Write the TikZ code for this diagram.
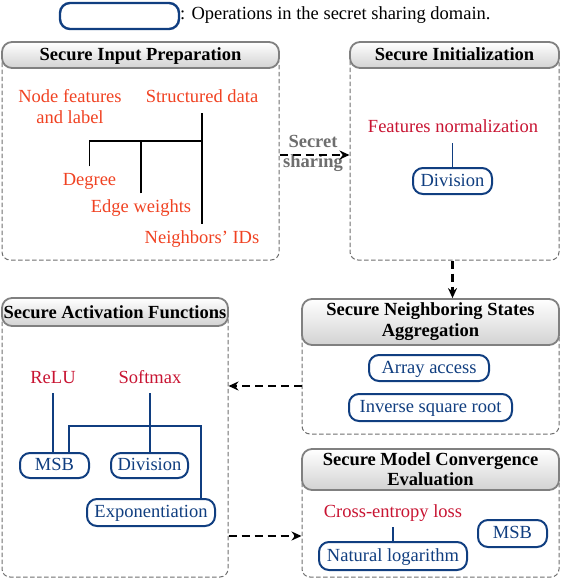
\documentclass[tikz,border=0pt]{standalone}
\usepackage{fontspec}
\setmainfont{Liberation Serif}
\usetikzlibrary{arrows.meta}
\definecolor{opblue}{RGB}{16,62,128}
\definecolor{crim}{RGB}{200,20,50}
\definecolor{ored}{RGB}{240,66,34}
\definecolor{boxgray}{RGB}{110,110,110}
\definecolor{ssgray}{RGB}{110,110,110}
\begin{document}
\begin{tikzpicture}[x=1pt,y=-1pt,
 fs/.style={font=\fontsize{18.5}{21}\selectfont},
 dbox/.style={draw=boxgray, line width=1pt, dash pattern=on 4.5pt off 2.5pt, rounded corners=8pt, inner sep=0pt},
 ttl/.style={draw=gray, line width=1.8pt, rounded corners=10pt, top color=white, bottom color=gray!35, inner sep=0pt, align=center, font=\fontsize{18.5}{21}\selectfont\bfseries},
 ttlone/.style={ttl, text height=14pt, text depth=2pt},
 op/.style={draw=opblue, line width=2pt, rounded corners=10pt, fill=white, inner sep=0pt, text=opblue, font=\fontsize{18.5}{21}\selectfont, text height=13pt, text depth=3pt},
 lbl/.style={inner xsep=0pt, inner ysep=6pt, text height=12.5pt, text depth=4pt, font=\fontsize{18.5}{21}\selectfont, anchor=base},
 inlbl/.style={lbl, text=ored},
 rlbl/.style={lbl, text=crim},
 tree/.style={line width=1.8pt},
 btree/.style={line width=1.8pt, draw=opblue},
 arr/.style={line width=2.4pt, dash pattern=on 8pt off 5pt, -{Stealth[length=10pt,width=9pt]}}
]
\useasboundingbox (0,0) rectangle (562,580);

% legend
\node[op, minimum width=119, minimum height=26, line width=2.4pt] (leg) at (119.5,16) {};
\node[anchor=base west, inner sep=0pt, fs] (legt) at (180,20) {: Operations in the secret sharing domain.};

% dashed boxes
\node[dbox, minimum width=277, minimum height=205] (b1) at (140.5,157.5) {};
\node[dbox, minimum width=209, minimum height=205] (b2) at (454.5,157.5) {};
\node[dbox, minimum width=257, minimum height=112] (b3) at (430.5,378) {};
\node[dbox, minimum width=226, minimum height=265] (b4) at (115,444.5) {};
\node[dbox, minimum width=257, minimum height=108] (b5) at (430.5,523) {};

% titles
\node[ttlone, minimum width=277, minimum height=26] (t1) at (140.5,55) {Secure Input Preparation};
\node[ttlone, minimum width=209, minimum height=26] (t2) at (454.5,55) {Secure Initialization};
\node[ttl, minimum width=257, minimum height=46] (t3) at (430.5,322) {Secure Neighboring States\\Aggregation};
\node[ttlone, minimum width=226, minimum height=28] (t4) at (115,312) {Secure Activation Functions};
\node[ttl, minimum width=257, minimum height=41, font=\fontsize{18.5}{20}\selectfont\bfseries] (t5) at (430.5,469.5) {Secure Model Convergence\\Evaluation};

% input preparation
\node[inner sep=0pt, align=center, text=ored, fs] (nf) at (70,106.7) {Node features\\and label};
\node[inlbl] (sd) at (202,103) {Structured data};
\node[inlbl] (deg) at (89.5,185) {Degree};
\node[inlbl] (ew) at (141,212) {Edge weights};
\node[inlbl] (nid) at (202,243) {Neighbors’ IDs};
\coordinate (j) at (202,141);
\draw[tree] (sd.south) -- (nid.north);
\draw[tree] (deg.north) |- (j);
\draw[tree] (ew.north) -- (ew.north |- j);

% secret sharing
\node[inner sep=0pt, align=center, text=ssgray, font=\fontsize{18.5}{20}\selectfont\bfseries] (ss) at (313,153) {Secret\\sharing};
\coordinate (a1) at (0,155);
\draw[arr] (b1.east |- a1) -- (b2.west |- a1);

% initialization
\node[rlbl] (fn) at (453,133) {Features normalization};
\node[op, minimum width=79, minimum height=26] (div1) at (452.5,181) {Division};
\draw[btree] (fn.south -| div1.north) -- (div1.north);

% b2 -> b3
\draw[arr] (div1.north |- b2.south) -- (div1.north |- t3.north);

% aggregation
\node[op, minimum width=120, minimum height=26] (arr) at (429,368) {Array access};
\node[op, minimum width=163, minimum height=27] (isr) at (430.5,407.5) {Inverse square root};

% b3 -> b4
\coordinate (a2) at (0,386);
\draw[arr] (b3.west |- a2) -- (b4.east |- a2);

% activation
\node[rlbl] (relu) at (53,383) {ReLU};
\node[rlbl] (soft) at (150,383) {Softmax};
\node[op, minimum width=69, minimum height=25] (msb1) at (54.5,465.5) {MSB};
\node[op, minimum width=77, minimum height=25] (div2) at (149.5,465.5) {Division};
\node[op, minimum width=128, minimum height=27] (exp) at (151,512.5) {Exponentiation};
\draw[btree] (relu.south) -- (relu.south |- msb1.north);
\draw[btree] (soft.south) -- (soft.south |- div2.north);
\coordinate (h1) at (69,426);
\coordinate (h2) at (201,426);
\draw[btree] (h1 |- msb1.north) -- (h1) -- (h2) -- (h2 |- exp.north);

% b4 -> b5
\coordinate (a3) at (0,536);
\draw[arr] (b4.east |- a3) -- (b5.west |- a3);

% convergence
\node[rlbl] (ce) at (393,517) {Cross-entropy loss};
\node[op, minimum width=148, minimum height=28] (nl) at (393,556) {Natural logarithm};
\node[op, minimum width=69, minimum height=27] (msb2) at (512.5,533.5) {MSB};
\draw[btree] (ce.south) -- (ce.south |- nl.north);
\end{tikzpicture}
\end{document}
